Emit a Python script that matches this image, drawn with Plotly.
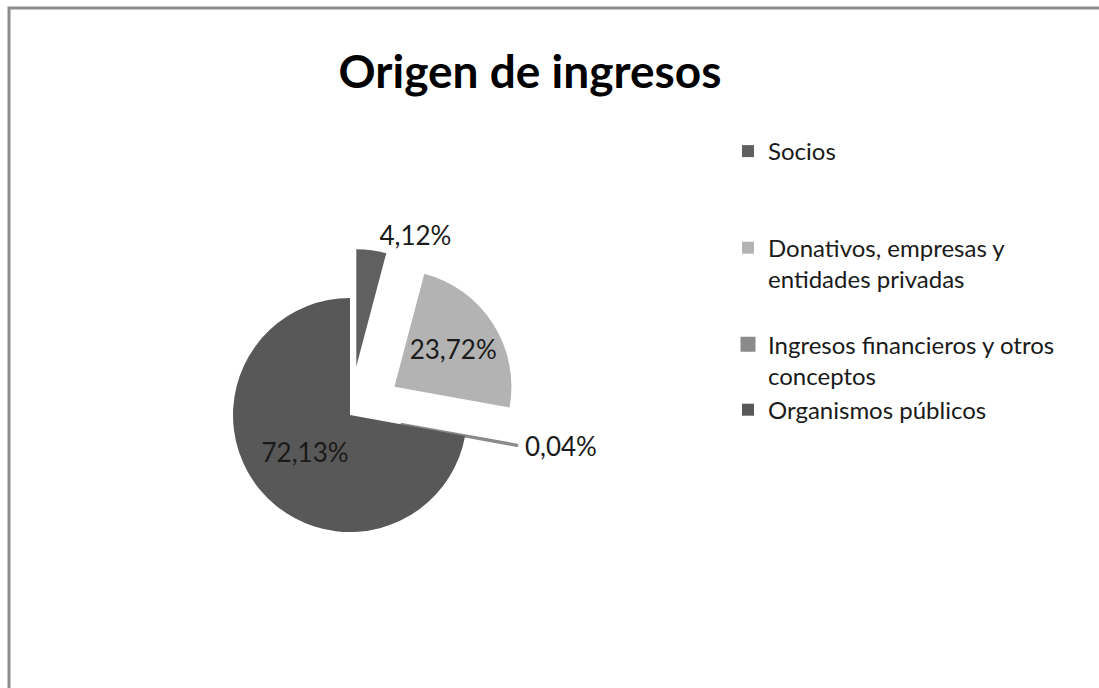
import plotly.graph_objects as go

# Data
labels = ["Socios", "Donativos, empresas y<br>entidades privadas",
          "Ingresos financieros y otros<br>conceptos", "Organismos públicos"]
values = [4.12, 23.72, 0.04, 72.13]
colors = ["#606060", "#b3b3b3", "#8a8a8a", "#585858"]
pulls = [0.42, 0.45, 0.45, 0]

# Percent text with comma decimals, as in the original
texts = [f"{v:.2f}%".replace(".", ",") for v in values]
# Extra blank lines keep the legend spacing close to the original
legend_names = ["Socios<br>\u00a0<br>\u00a0", labels[1] + "<br>\u00a0", labels[2], labels[3]]

W, H = 1099, 688
cx, cy, r = 350, 415, 117
half = r * (1 + max(pulls))

fig = go.Figure()

fig.add_trace(go.Pie(
    labels=legend_names,
    values=values,
    text=texts,
    textinfo="text",
    textposition=["outside", "inside", "outside", "inside"],
    insidetextorientation="horizontal",
    textfont=dict(family="Lato", size=26, color="#1a1a1a"),
    sort=False,
    direction="clockwise",
    rotation=0,
    pull=pulls,
    marker=dict(colors=colors, line=dict(color=colors, width=[0, 0, 3, 0])),
    domain=dict(x=[(cx - half) / W, (cx + half) / W],
                y=[1 - (cy + half) / H, 1 - (cy - half) / H]),
    hoverinfo="label+text",
))

fig.update_layout(
    width=W, height=H,
    margin=dict(l=0, r=0, t=0, b=0),
    paper_bgcolor="white",
    title=dict(text="<b>Origen de ingresos</b>", x=530 / W, xanchor="center",
               y=1 - 72 / H, yanchor="middle",
               font=dict(family="Lato", size=46, color="black")),
    legend=dict(x=728 / W, xanchor="left", y=1 - 129 / H, yanchor="top",
                valign="top", itemwidth=30,
                font=dict(family="Lato", size=24, color="#1a1a1a")),
    shapes=[dict(type="rect", xref="paper", yref="paper",
                 x0=9 / W, x1=1.02, y0=-0.02, y1=1 - 8 / H,
                 line=dict(color="#8c8c8c", width=3))],
)

fig.write_html("out.html", config={"displayModeBar": False},
               post_script="document.body.style.margin = '0';")
